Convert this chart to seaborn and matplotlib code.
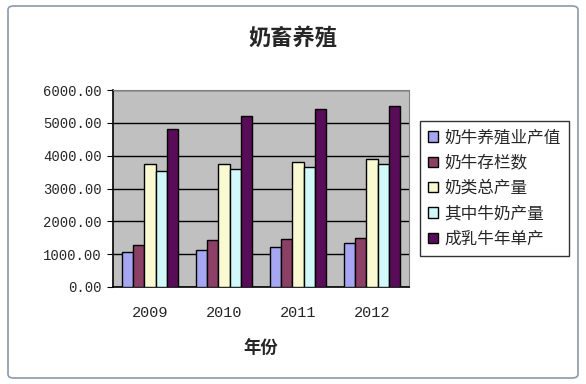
import matplotlib
matplotlib.use("Agg")
import matplotlib.pyplot as plt
from matplotlib.patches import FancyBboxPatch
import seaborn as sns
import pandas as pd
import numpy as np

# data
years = ["2009", "2010", "2011", "2012"]
series = ["奶牛养殖业产值", "奶牛存栏数", "奶类总产量", "其中牛奶产量", "成乳牛年单产"]
output_value = [1058, 1119, 1220, 1332]
herd_size = [1281, 1424, 1455, 1485]
milk_total = [3743, 3743, 3804, 3896]
cow_milk = [3538, 3590, 3651, 3743]
yield_per_cow = [4811, 5217, 5420, 5512]
colors = ["#9999FF", "#993366", "#FFFFCC", "#CCFFFF", "#660066"]

df = pd.DataFrame({
    "year": years * 5,
    "series": np.repeat(series, 4),
    "value": output_value + herd_size + milk_total + cow_milk + yield_per_cow,
})

sns.set_style("white")
plt.rcParams["font.family"] = ["Noto Sans CJK SC", "DejaVu Sans"]
num_font = ["Liberation Mono", "DejaVu Sans Mono"]

fig = plt.figure(figsize=(5.86, 3.84), dpi=100)
fig.patch.set_facecolor("white")
# chart border
fig.patches.append(FancyBboxPatch((8 / 586, 6 / 384), 570 / 586, 372 / 384,
                                  boxstyle="round,pad=0,rounding_size=0.01",
                                  transform=fig.transFigure, fill=False,
                                  edgecolor="#8a9aa8", linewidth=1.2))

ax = fig.add_axes([113 / 586, 1 - 287 / 384, 296 / 586, 197 / 384])
ax.set_facecolor("#C0C0C0")
sns.barplot(data=df, x="year", y="value", hue="series", palette=colors,
            width=0.77, gap=0, edgecolor="black", linewidth=1, ax=ax,
            legend=True, zorder=3)

ax.set_ylim(0, 6000)
ax.set_yticks(np.arange(0, 6001, 1000))
ax.set_yticklabels([f"{v:.2f}" for v in np.arange(0, 6001, 1000)],
                   family=num_font, fontsize=10)
ax.set_xticks(range(4))
ax.set_xticklabels(years, family=num_font, fontsize=11)
ax.set_xlim(-0.5, 3.5)
ax.set_xticks([0.5, 1.5, 2.5, 3.5], minor=True)
ax.tick_params(axis="x", which="major", length=0, pad=14)
ax.tick_params(axis="x", which="minor", length=4, direction="in", color="black")
ax.tick_params(axis="y", length=4, direction="out", color="black", left=True, pad=4)
ax.yaxis.grid(True, color="black", linewidth=1, zorder=0)
ax.set_axisbelow(True)

for side in ["top", "right"]:
    ax.spines[side].set_color("#808080")
for side in ["left", "bottom"]:
    ax.spines[side].set_color("black")
    ax.spines[side].set_linewidth(1.2)

ax.set_ylabel("")
ax.set_xlabel("年份", fontsize=12.5, fontweight="bold", labelpad=14)
fig.text(0.5, 1 - 38 / 384, "奶畜养殖", ha="center", va="center",
         fontsize=16, fontweight="bold")

leg = ax.legend(loc="upper left", bbox_to_anchor=(420 / 586, 1 - 121 / 384),
                bbox_transform=fig.transFigure, frameon=True, fancybox=False,
                fontsize=12, handlelength=0.6, handleheight=0.6,
                handletextpad=0.35, labelspacing=0.5, borderpad=0.5,
                borderaxespad=0)
leg.get_frame().set_edgecolor("black")
leg.get_frame().set_linewidth(1)

fig.savefig("out.png", dpi=100)
